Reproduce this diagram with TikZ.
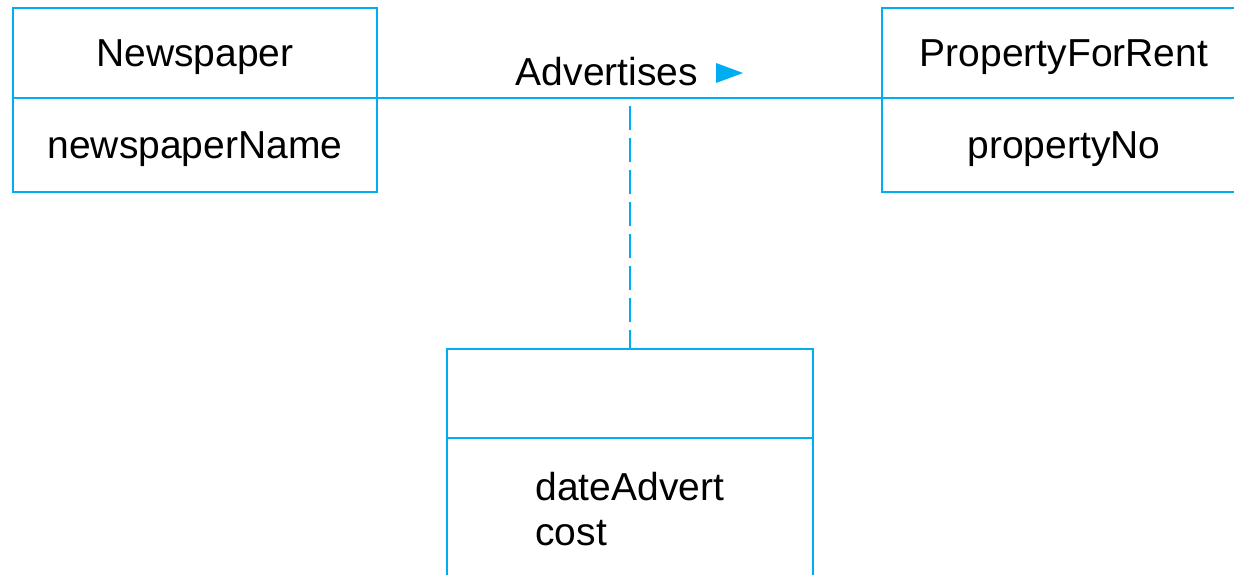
\documentclass[tikz,border=0pt]{standalone}
\usepackage{fontspec}
\setmainfont{Liberation Sans}
\usetikzlibrary{positioning}
\definecolor{umlblue}{RGB}{0,174,239}
\tikzset{
  umlfont/.style={font=\fontsize{19.5}{22.5}\selectfont},
  compart/.style={draw=umlblue, line width=1.3pt, minimum width=182pt, inner sep=0pt, outer sep=0pt,
    text height=17.5pt, text depth=3.9pt, umlfont},
  assoc/.style={draw=umlblue, line width=1.3pt},
}
\begin{document}
\begin{tikzpicture}[x=0.5pt,y=-0.5pt]
    \useasboundingbox (0,0) rectangle (1234,574);
    % classes
    \node[compart, minimum height=45pt] (news) at (195,53) {Newspaper};
    \node[compart, minimum height=47pt, below=0pt of news] (newsattr) {newspaperName};
    \node[compart, minimum height=45pt] (prop) at (1064,53) {PropertyForRent};
    \node[compart, minimum height=47pt, below=0pt of prop] (propattr) {propertyNo};
    % association class
    \node[compart, minimum width=183pt, minimum height=44.5pt] (advert) at (630,393.5) {};
    \node[compart, minimum width=183pt, minimum height=85pt, below=0pt of advert] (advertattr) {};
    \node[umlfont, anchor=base west, inner sep=0pt] (date) at (535,500) {dateAdvert};
    \node[umlfont, anchor=base west, inner sep=0pt] (cost) at (535,545) {cost};
    % association
    \draw[assoc] (news.south east) -- (prop.south west);
    \node[umlfont, anchor=base, inner sep=0pt] (advlabel) at (607,85) {Advertises};
    \fill[umlblue] (716,63) -- (743,73) -- (716,83) -- cycle;
    \coordinate (link) at ([yshift=-4pt]news.south east -| advert.north);
    \draw[assoc, dash pattern=on 12pt off 4pt] (link) -- (advert.north);
\end{tikzpicture}
\end{document}
